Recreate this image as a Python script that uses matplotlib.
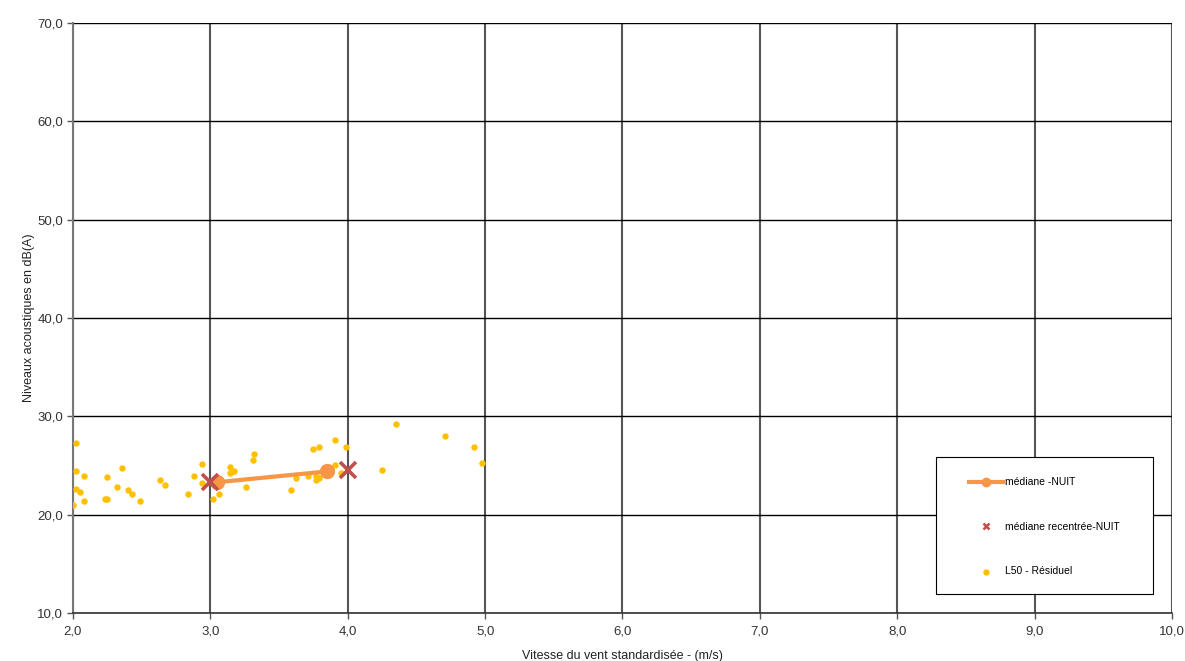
import matplotlib
matplotlib.use("Agg")
import matplotlib.pyplot as plt
from matplotlib.ticker import FuncFormatter, MultipleLocator
from matplotlib.patches import Rectangle

plt.rcParams['font.family'] = ['Liberation Sans', 'DejaVu Sans']

# L50 résiduel (vitesse m/s, niveau dB(A))
l50_vent = [2.02, 2.02, 2.08, 2.02, 2.05, 2.08, 2.00, 2.25, 2.36, 2.32, 2.23, 2.25,
            2.40, 2.43, 2.49, 2.63, 2.67, 2.84, 2.88, 2.94, 2.94, 3.02, 3.06, 3.14,
            3.17, 3.14, 3.31, 3.32, 3.26, 3.59, 3.62, 3.71, 3.75, 3.79, 3.77, 3.79,
            3.77, 3.91, 3.99, 3.91, 3.95, 4.25, 4.35, 4.71, 4.92, 4.98]
l50_niveau = [27.3, 24.4, 23.9, 22.6, 22.3, 21.4, 21.0, 23.8, 24.7, 22.8, 21.6, 21.6,
              22.5, 22.1, 21.4, 23.5, 23.0, 22.1, 23.9, 25.2, 23.2, 21.6, 22.1, 24.8,
              24.4, 24.2, 25.6, 26.2, 22.8, 22.5, 23.7, 23.9, 26.7, 26.9, 23.9, 23.7,
              23.5, 27.6, 26.9, 25.1, 24.2, 24.5, 29.2, 28.0, 26.9, 25.3]

# médiane nuit
med_vent = [3.05, 3.85]
med_niveau = [23.3, 24.4]

# médiane recentrée sur les classes de vent entières
rec_vent = [3.0, 4.0]
rec_niveau = [23.3, 24.5]

fig = plt.figure(figsize=(11.85, 6.61), dpi=100)
ax = fig.add_axes([0.0616, 0.0726, 0.9274, 0.8926])

ax.scatter(l50_vent, l50_niveau, s=13, color='#FFC000', zorder=3,
           label='L50 - Résiduel')
ax.plot(med_vent, med_niveau, color='#F79646', lw=3, marker='o', ms=10,
        zorder=4, label='médiane -NUIT')
ax.plot(rec_vent, rec_niveau, ls='none', marker='x', ms=12, mew=2.6,
        color='#C0504D', zorder=5, label='médiane recentrée-NUIT')

ax.set_xlim(2, 10)
ax.set_ylim(10, 70)
ax.xaxis.set_major_locator(MultipleLocator(1))
ax.yaxis.set_major_locator(MultipleLocator(10))
fmt = FuncFormatter(lambda v, p: f"{v:.1f}".replace('.', ','))
ax.xaxis.set_major_formatter(fmt)
ax.yaxis.set_major_formatter(fmt)

# grille : horizontales noires, verticales grises
ax.grid(axis='y', color='black', lw=1.0, zorder=1)
ax.grid(axis='x', color='#555555', lw=1.5, zorder=1)
ax.set_axisbelow(True)

for s in ['top', 'right']:
    ax.spines[s].set_visible(False)
ax.spines['left'].set_color('#777777')
ax.spines['left'].set_linewidth(1.5)
ax.spines['bottom'].set_color('#333333')
ax.spines['bottom'].set_linewidth(1.2)

ax.tick_params(axis='both', direction='out', length=4, width=1,
               color='#555555', labelsize=9.5, labelcolor='#333333')
ax.tick_params(axis='x', pad=5)
ax.tick_params(axis='y', pad=3)

ax.set_xlabel('Vitesse du vent standardisée - (m/s)', fontsize=9,
              color='#222222', labelpad=9)
ax.set_ylabel('Niveaux acoustiques en dB(A)', fontsize=9,
              color='#222222', labelpad=1.5)

# cadre de la légende
x0, y0, x1, y1 = 0.785, 0.032, 0.983, 0.264
ax.add_patch(Rectangle((x0, y0), x1 - x0, y1 - y0, transform=ax.transAxes,
                       facecolor='white', edgecolor='black', lw=0.8, zorder=6))

handles, labels = ax.get_legend_handles_labels()
order = [1, 2, 0]
leg = ax.legend([handles[i] for i in order], [labels[i] for i in order],
                loc='center', bbox_to_anchor=((x0 + x1) / 2, (y0 + y1) / 2 - 0.002),
                frameon=False, fontsize=7.5, handlelength=3.3, handletextpad=0.2,
                labelspacing=3.3, borderpad=0, scatterpoints=1)
leg.set_zorder(7)
hl = leg.legend_handles
hl[0].set_markersize(6)
hl[1].set_markersize(5)
hl[1].set_markeredgewidth(1.8)
hl[2].set_sizes([13])

fig.savefig('out.png', dpi=100)
